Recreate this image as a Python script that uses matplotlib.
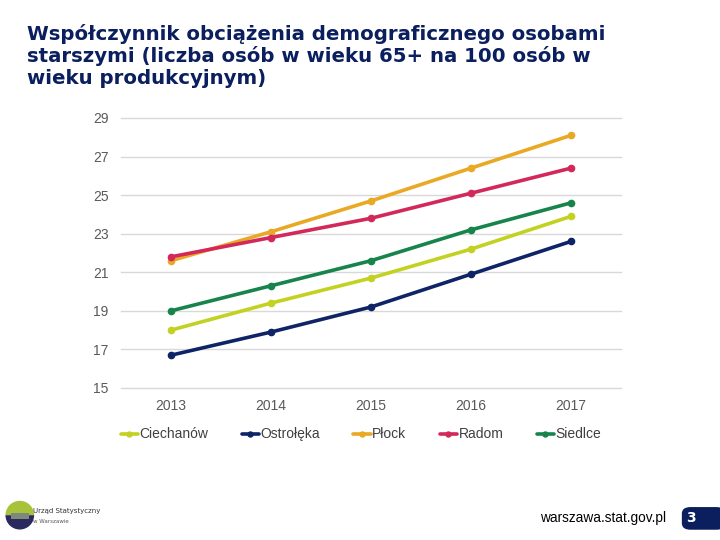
import matplotlib.pyplot as plt
from matplotlib.patches import Wedge, FancyBboxPatch

years = ['2013', '2014', '2015', '2016', '2017']
ciechanow = [18.0, 19.4, 20.7, 22.2, 23.9]
ostroleka = [16.7, 17.9, 19.2, 20.9, 22.6]
plock = [21.6, 23.1, 24.7, 26.4, 28.1]
radom = [21.8, 22.8, 23.8, 25.1, 26.4]
siedlce = [19.0, 20.3, 21.6, 23.2, 24.6]

series = [
    ('Ciechanów', ciechanow, '#c3d122'),
    ('Ostrołęka', ostroleka, '#0f2466'),
    ('Płock', plock, '#e9a925'),
    ('Radom', radom, '#d3285a'),
    ('Siedlce', siedlce, '#17844c'),
]

NAVY = '#0b1f5e'
SANS = 'Liberation Sans'

fig = plt.figure(figsize=(7.2, 5.4), dpi=100)
ax = fig.add_axes([0.168, 0.2815, 0.6945, 0.5])

x = list(range(len(years)))
for name, vals, col in series:
    ax.plot(x, vals, color=col, lw=2.6, marker='o', ms=4.5, label=name,
            solid_capstyle='round')

ax.set_xlim(-0.5, 4.5)
ax.set_ylim(15, 29)
ax.set_yticks(range(15, 30, 2))
ax.set_xticks(x, years)
ax.grid(axis='y', color='#d9d9d9', lw=1)
for gl in ax.get_ygridlines():
    gl.set_clip_on(False)
ax.set_axisbelow(True)
for s in ax.spines.values():
    s.set_visible(False)
ax.tick_params(length=0, labelsize=10, labelcolor='#595959')
for lab in ax.get_xticklabels() + ax.get_yticklabels():
    lab.set_family(SANS)
ax.tick_params(axis='y', pad=9)
ax.tick_params(axis='x', pad=8)

ax.legend(loc='upper center', bbox_to_anchor=(0.48, -0.1), ncol=5, frameon=False,
          prop={'family': SANS, 'size': 10}, labelcolor='#404040',
          handlelength=1.25, handletextpad=0.1, columnspacing=2.4, markerscale=0.8)

fig.text(0.038, 0.956, 'Współczynnik obciążenia demograficznego osobami\n'
         'starszymi (liczba osób w wieku 65+ na 100 osób w\nwieku produkcyjnym)',
         ha='left', va='top', fontsize=14.2, fontweight='bold', color=NAVY,
         linespacing=1.16)

# footer
fig.text(0.75, 0.04, 'warszawa.stat.gov.pl', fontsize=9.8, family=SANS,
         color='#000000', ha='left', va='center')
box = FancyBboxPatch((0.947, 0.019), 0.06, 0.042, boxstyle='round,pad=0,rounding_size=0.012',
                     transform=fig.transFigure, facecolor=NAVY, edgecolor='none')
fig.patches.append(box)
fig.text(0.959, 0.041, '3', fontsize=10, fontweight='bold', color='white',
         ha='center', va='center')

# logo
lax = fig.add_axes([0.005, 0.018, 0.045, 0.056])
lax.set_xlim(-1, 1)
lax.set_ylim(-1, 1)
lax.set_aspect('equal')
lax.axis('off')
lax.add_patch(Wedge((0, 0), 0.95, 0, 180, facecolor='#a8c23a'))
lax.add_patch(Wedge((0, 0), 0.95, 180, 360, facecolor='#2b2a5e'))
lax.add_patch(plt.Rectangle((-0.6, -0.25), 1.2, 0.4, facecolor='#7d8a7a'))
fig.text(0.046, 0.053, 'Urząd Statystyczny', fontsize=5, color='#333333', va='center')
fig.text(0.046, 0.035, 'w Warszawie', fontsize=4, color='#555555', va='center')

fig.savefig('out.png', dpi=100)
